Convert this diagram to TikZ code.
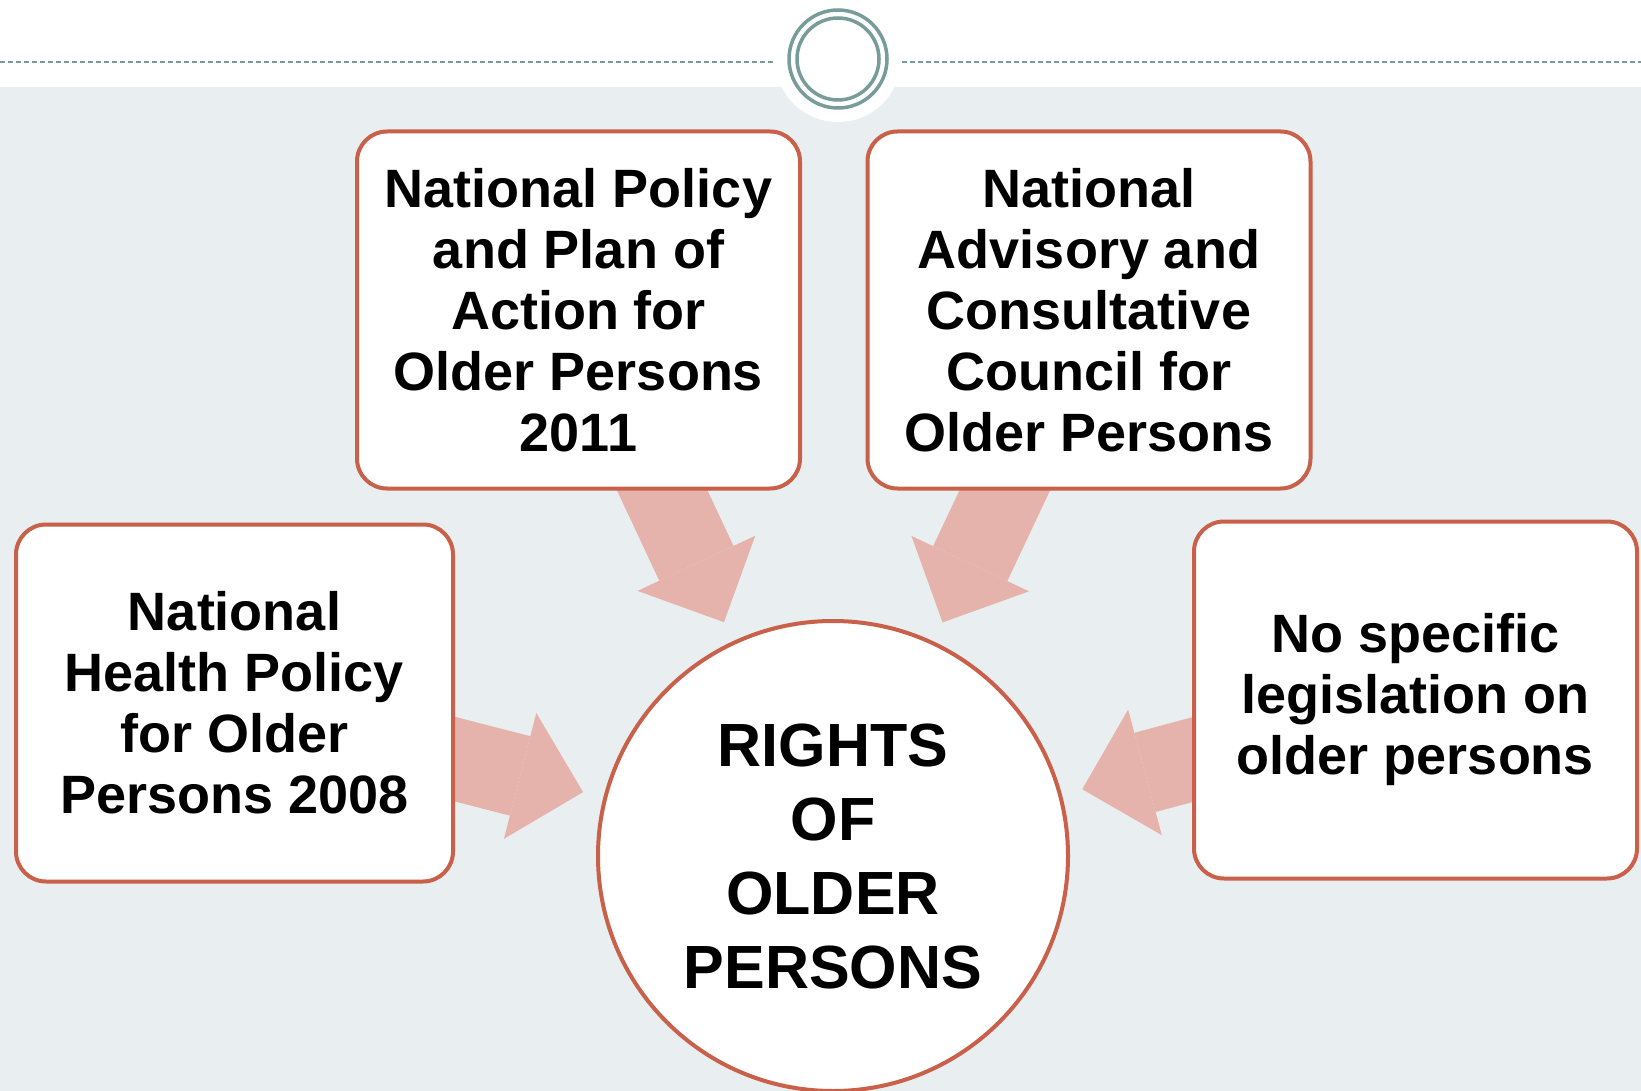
\documentclass[tikz,border=0pt]{standalone}
\usepackage{fontspec}
\setmainfont{Liberation Sans}
\usetikzlibrary{positioning,arrows.meta}
\definecolor{rimred}{RGB}{200,96,74}
\definecolor{arrowpink}{RGB}{229,179,171}
\definecolor{slatebg}{RGB}{233,238,240}
\definecolor{ringteal}{RGB}{120,156,153}
\pgfdeclarelayer{back}
\pgfdeclarelayer{arrowlayer}
\pgfsetlayers{back,arrowlayer,main}

\begin{document}
\begin{tikzpicture}[x=1pt,y=-1pt,on grid,
    policy/.style={draw=rimred,line width=4pt,fill=white,rounded corners=30pt,
      minimum width=443pt,minimum height=357pt,align=center,
      font=\bfseries\fontsize{54}{61}\selectfont},
    rightsnode/.style={circle,draw=rimred,line width=4pt,fill=white,
      minimum size=470pt,inner sep=0pt,align=center,
      font=\bfseries\fontsize{61}{74}\selectfont},
    push/.style={draw=arrowpink,line width=82pt,
      -{Triangle[width=130pt,length=65pt,line width=0pt]},
      shorten <=-20pt,shorten >=21pt}]
  \useasboundingbox (0,0) rectangle (1641,1091);
  \begin{pgfonlayer}{back}
    \fill[slatebg] (0,87) rectangle (1641,1091);
  \end{pgfonlayer}
  % header ring
  \coordinate (ringc) at (838,59);
  \fill[white] (ringc) circle[radius=63];
  \draw[ringteal,line width=2pt,dash pattern=on 5pt off 3pt] (0,62) -- (775,62);
  \draw[ringteal,line width=2pt,dash pattern=on 5pt off 3pt] (902,62) -- (1641,62);
  \draw[ringteal,line width=3.5pt] (ringc) circle[radius=49];
  \draw[ringteal,line width=3.5pt] (ringc) circle[radius=41];

  \node[rightsnode] (rights) at (833,856) {RIGHTS\\OF\\OLDER\\PERSONS};
  \node[policy] (plan) [above left=546pt and 254.5pt of rights]
    {National Policy\\and Plan of\\Action for\\Older Persons\\2011};
  \node[policy] (council) [above right=546pt and 256pt of rights]
    {National\\Advisory and\\Consultative\\Council for\\Older Persons};
  \node[policy,minimum width=437pt] (health) [above left=153pt and 598.5pt of rights]
    {National\\Health Policy\\for Older\\Persons 2008};
  \node[policy] (nolaw) [above right=156pt and 582.5pt of rights]
    {No specific\\legislation on\\older persons};

  \begin{pgfonlayer}{arrowlayer}
    \path (plan) edge[push] (rights)
      (council) edge[push] (rights)
      (health) edge[push] (rights)
      (nolaw) edge[push] (rights);
  \end{pgfonlayer}
\end{tikzpicture}
\end{document}
